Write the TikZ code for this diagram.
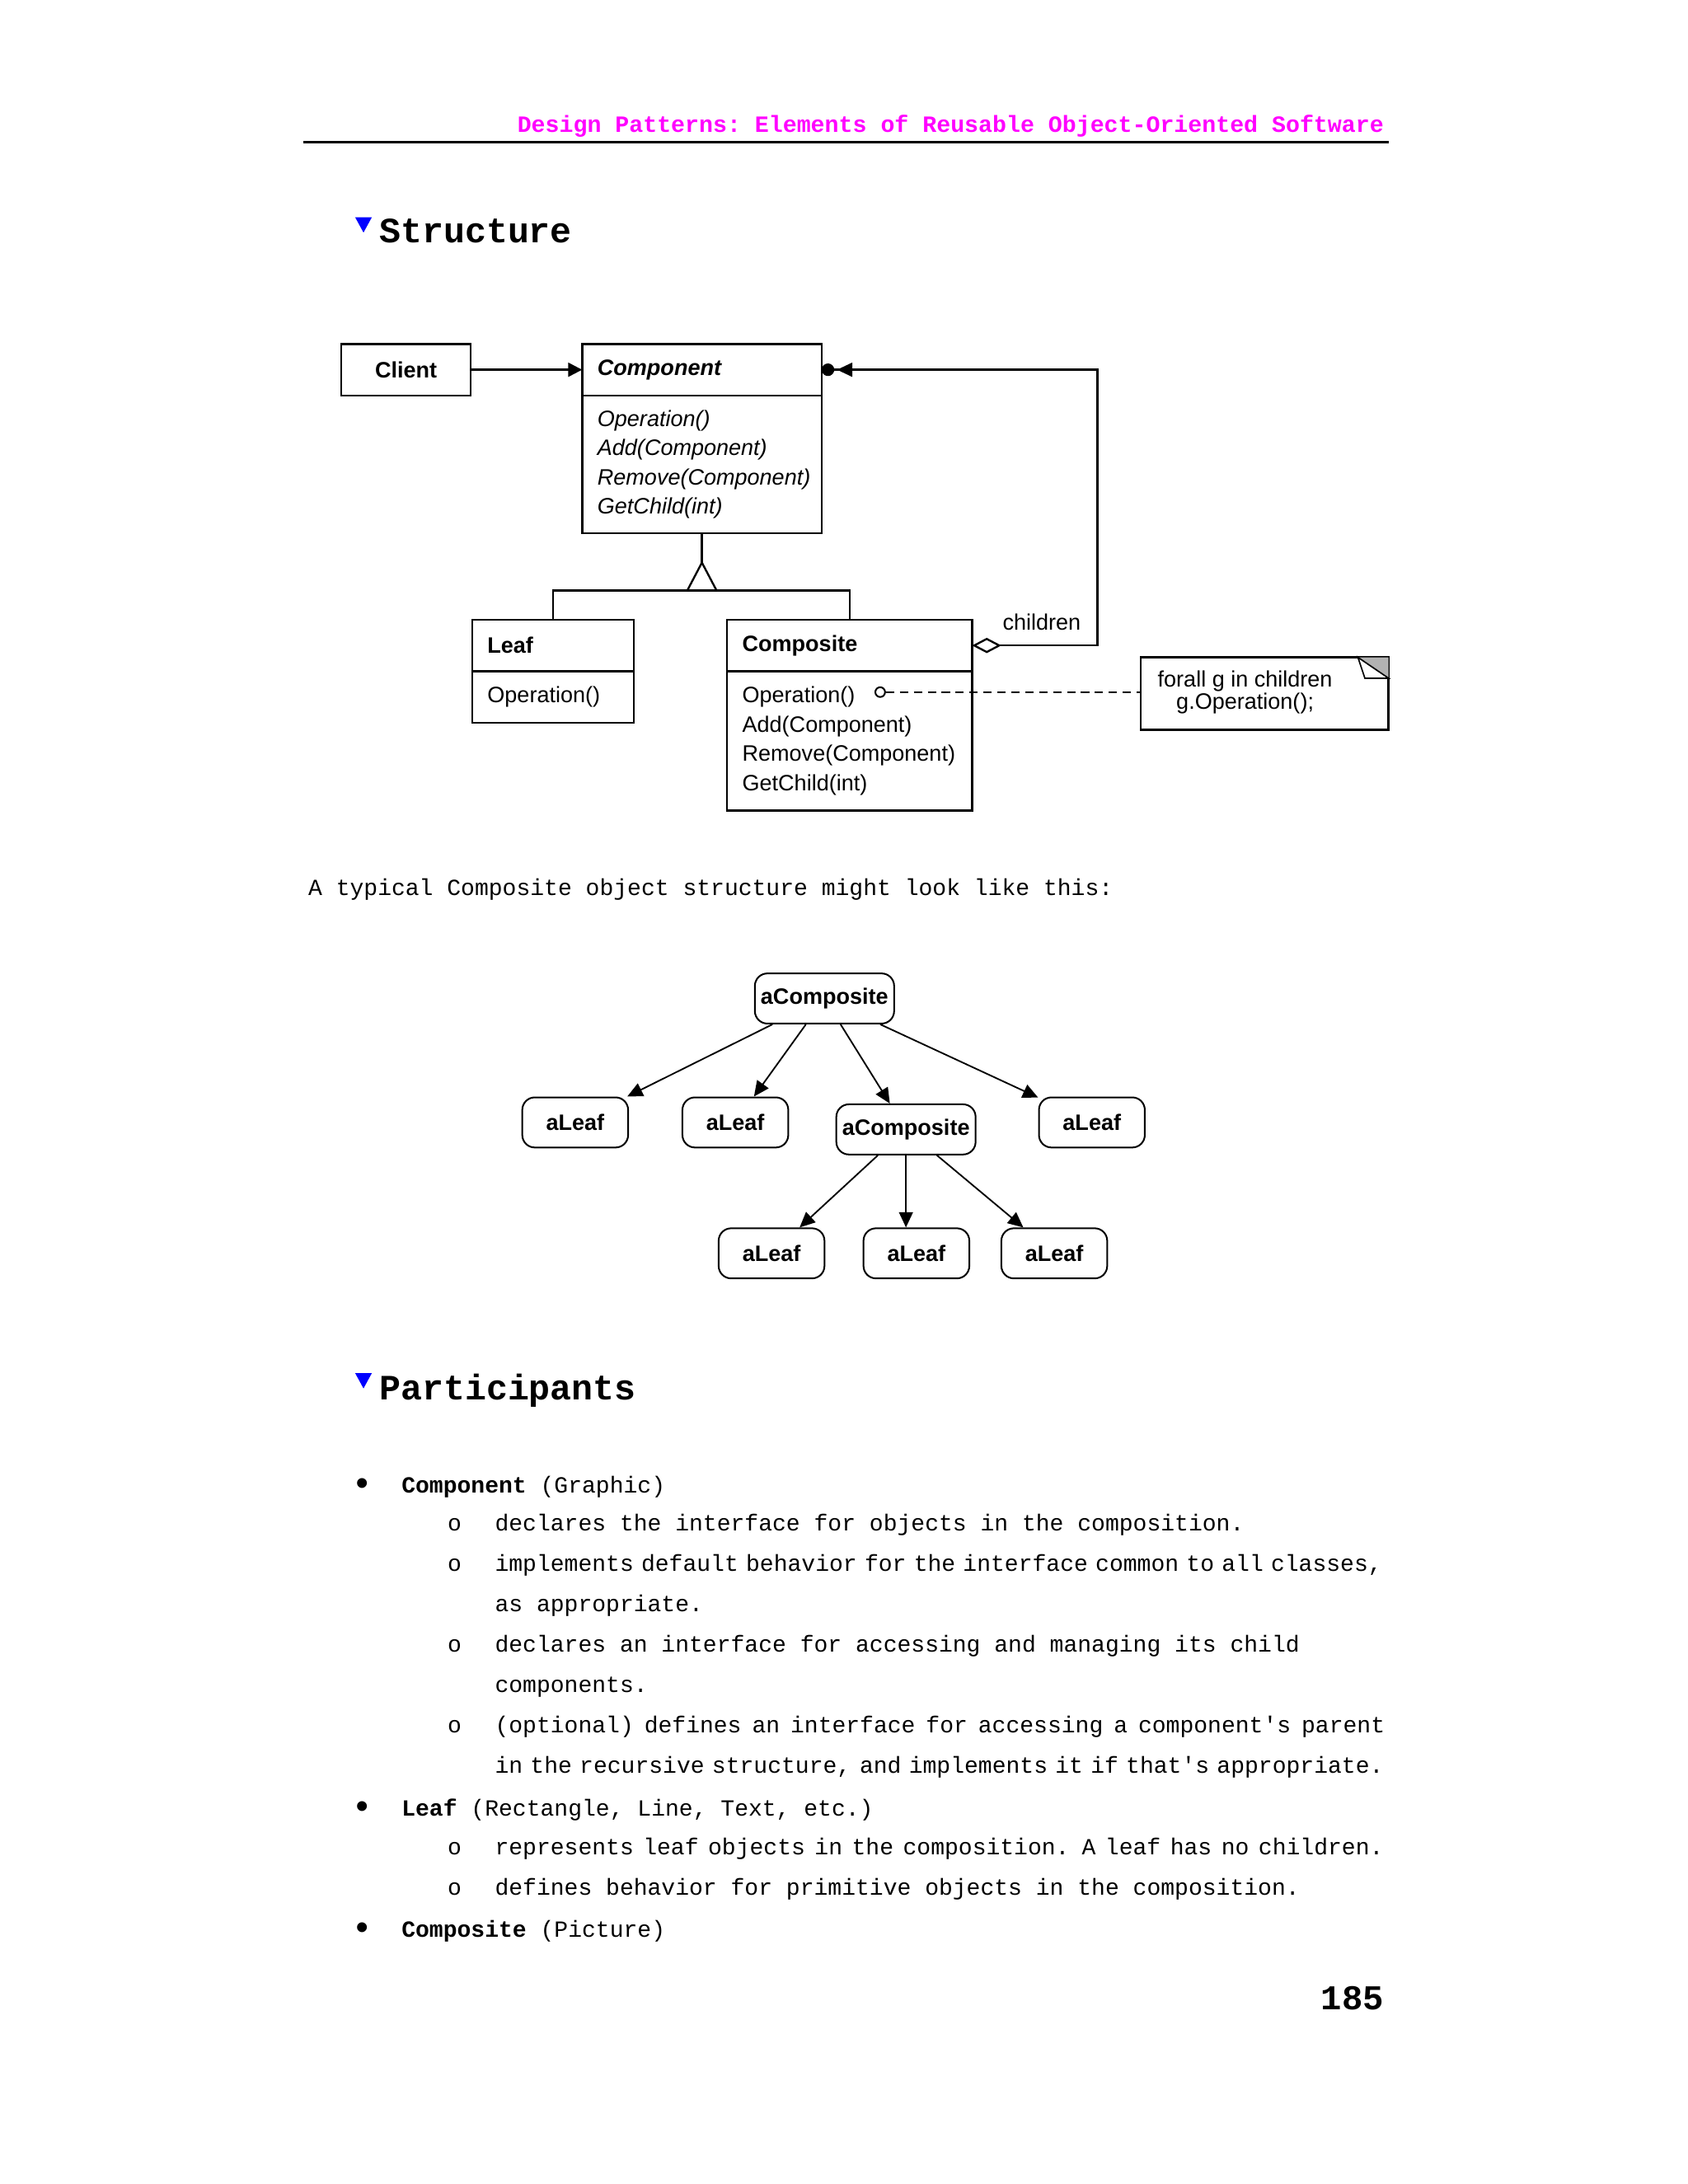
\documentclass[tikz,border=0pt]{standalone}
\usepackage{fontspec}
\setmainfont{Liberation Sans}
\setmonofont{Liberation Mono}
\usepackage{xcolor}
\usepackage{tikz}
\usetikzlibrary{positioning,arrows.meta}

\definecolor{headpink}{RGB}{255,0,255}
\definecolor{markblue}{RGB}{0,0,255}

% one justified line of typewriter text
\newcommand\fillline[2]{{\spaceskip=0.6em minus 0.45em\hbox to #1{#2}}}

\begin{document}
\begin{tikzpicture}[x=0.5pt,y=-0.5pt,
  classbox/.style={draw, line width=0.75pt, outer sep=0pt, inner xsep=5.5pt, inner ysep=0pt,
    align=left, font=\fontsize{8}{10.5}\selectfont},
  conn/.style={line width=0.7pt},
  objbox/.style={draw, rounded corners=4.5pt, line width=0.6pt, minimum height=18pt, inner sep=0pt,
    font=\bfseries\fontsize{8}{9.6}\selectfont},
  objarrow/.style={-{Triangle[length=5.5pt,width=5pt]}, line width=0.55pt},
  body/.style={anchor=base west, inner sep=0pt, font=\ttfamily\fontsize{8.3}{10}\selectfont},
  sechead/.style={anchor=base west, inner sep=0pt, font=\ttfamily\bfseries\fontsize{12.8}{14}\selectfont}]

  \useasboundingbox (0,0) rectangle (1212,1568.3);

  % running head:
  \node[anchor=base east, inner sep=0pt, text=headpink, font=\ttfamily\bfseries\fontsize{8.36}{10}\selectfont]
    (runhead) at (994,95) {Design Patterns: Elements of Reusable Object-Oriented Software};
  \draw[line width=1pt] (218,102) -- (997,102);

  % Structure:
  \fill[markblue] (255,156) -- (267,156) -- (261,167) -- cycle;
  \node[sechead] (structTitle) at (272,174) {Structure};

  \begin{scope}
    % the classes:
    \node[classbox, text width=35.5pt, minimum height=18.5pt, align=center,
      font=\bfseries\fontsize{8}{10}\selectfont] (client) at (291.5,265.5) {Client};
    \node[classbox, text width=75pt, minimum height=18.5pt,
      font=\bfseries\itshape\fontsize{8}{10}\selectfont] (compHead) at (504,265.5) {Component};
    \node[classbox, text width=75pt, minimum height=49.5pt, below=0pt of compHead,
      font=\itshape\fontsize{8}{10.5}\selectfont] (compBody)
      {Operation()\\Add(Component)\\Remove(Component)\\GetChild(int)};
    \node[classbox, text width=47pt, minimum height=18.5pt,
      font=\bfseries\fontsize{8}{10}\selectfont] (leafHead) at (397,463.5) {Leaf};
    \node[classbox, text width=47pt, minimum height=18.5pt, below=0pt of leafHead] (leafBody) {Operation()};
    \node[classbox, text width=77pt, minimum height=18.5pt,
      font=\bfseries\fontsize{8}{10}\selectfont] (compoHead) at (610,463.5) {Composite};
    \node[classbox, text width=77pt, minimum height=50pt, below=0pt of compoHead] (compoBody)
      {Operation()\\Add(Component)\\Remove(Component)\\GetChild(int)};

    % inheritance:
    \coordinate (tip) at (504,404);
    \coordinate (bar) at (504,424);
    \draw[conn] (compBody.south) -- (tip);
    \draw[conn] (tip) -- ([xshift=-5.25pt]bar) -- ([xshift=5.25pt]bar) -- cycle;
    \draw[conn] (leafHead.north) |- (bar) -| (compoHead.north);

    % associations:
    \draw[conn, -{Triangle[length=5pt,width=5pt]}] (client) -- (compHead);
    \coordinate (loop) at (788,265.5);
    \draw[conn, {Diamond[open,length=10.5pt,width=5.5pt]}-{Triangle[length=5.5pt,width=5pt,sep=1pt]Circle[length=4.5pt]}]
      (compoHead.east) -| (loop) -- (compHead.east);
    \node[inner sep=0pt, font=\fontsize{8}{10}\selectfont] (kids) at (748,447) {children};

    % the note:
    \node[draw, line width=0.75pt, outer sep=0pt, minimum width=89pt, minimum height=26pt] (note) at (908,498) {};
    \fill[gray!60] ([xshift=-11pt]note.north east) -- (note.north east) -- ([yshift=-7.5pt]note.north east) -- cycle;
    \draw[line width=0.5pt, fill=white] ([xshift=-11pt]note.north east) -- ([xshift=-8.5pt,yshift=-7.5pt]note.north east)
      -- ([yshift=-7.5pt]note.north east) -- cycle;
    \node[inner sep=0pt, align=center, font=\fontsize{8}{8}\selectfont] (noteText) at (894,497)
      {forall g in children\\g.Operation();};
    \node[draw, circle, line width=0.6pt, inner sep=0pt, minimum size=3.5pt] (opdot) at (632,497) {};
    \draw[conn, dash pattern=on 3pt off 2pt] (opdot) -- (opdot -| note.west);
  \end{scope}

  \node[body] (typical) at (221,643) {A typical Composite object structure might look like this:};

  \begin{scope}
    % object structure:
    \node[objbox, minimum width=50pt] (root) at (592,717) {aComposite};
    \node[objbox, minimum width=38pt] (leafA) at (413,806) {aLeaf};
    \node[objbox, minimum width=38pt] (leafB) at (528,806) {aLeaf};
    \node[objbox, minimum width=50pt] (sub) at (650.5,811) {aComposite};
    \node[objbox, minimum width=38pt] (leafC) at (784,806) {aLeaf};
    \node[objbox, minimum width=38pt] (leafD) at (554,900) {aLeaf};
    \node[objbox, minimum width=38pt] (leafE) at (658,900) {aLeaf};
    \node[objbox, minimum width=38pt] (leafF) at (757,900) {aLeaf};
    \foreach \kid in {leafA,leafB,sub,leafC} \draw[objarrow] (root) -- (\kid);
    \draw[objarrow] (sub) -- (sub |- leafE.north);
    \foreach \kid in {leafD,leafF} \draw[objarrow] (sub) -- (\kid);
  \end{scope}

  % Participants:
  \fill[markblue] (255,986) -- (267,986) -- (261,997) -- cycle;
  \node[sechead] (partTitle) at (272,1005) {Participants};

  \foreach \y in {1072,1304,1391}
    \node[body, font=\ttfamily\fontsize{13}{14}\selectfont] (dot\y) at (252,\y+2) {•};
  \foreach \y in {1099,1128,1186,1244,1332,1361} \node[body] (o\y) at (321,\y) {o};

  \node[body] (pComp) at (288,1072) {\textbf{Component} (Graphic)};
  \node[body] (lineA) at (355,1099) {declares the interface for objects in the composition.};
  \node[body] (lineB) at (355,1128) {\fillline{318.5pt}{implements default behavior for the interface common to all classes,}};
  \node[body] (lineC) at (355,1157) {as appropriate.};
  \node[body] (lineD) at (355,1186) {declares an interface for accessing and managing its child};
  \node[body] (lineE) at (355,1215) {components.};
  \node[body] (lineF) at (355,1244) {\fillline{319.5pt}{(optional) defines an interface for accessing a component's parent}};
  \node[body] (lineG) at (355,1273) {\fillline{319pt}{in the recursive structure, and implements it if that's appropriate.}};
  \node[body] (pLeaf) at (288,1304) {\textbf{Leaf} (Rectangle, Line, Text, etc.)};
  \node[body] (lineH) at (355,1332) {\fillline{319pt}{represents leaf objects in the composition. A leaf has no children.}};
  \node[body] (lineI) at (355,1361) {defines behavior for primitive objects in the composition.};
  \node[body] (pCompo) at (288,1391) {\textbf{Composite} (Picture)};

  \node[anchor=base east, inner sep=0pt, font=\ttfamily\bfseries\fontsize{12.5}{14}\selectfont] (pageNo) at (994,1443) {185};
\end{tikzpicture}
\end{document}
